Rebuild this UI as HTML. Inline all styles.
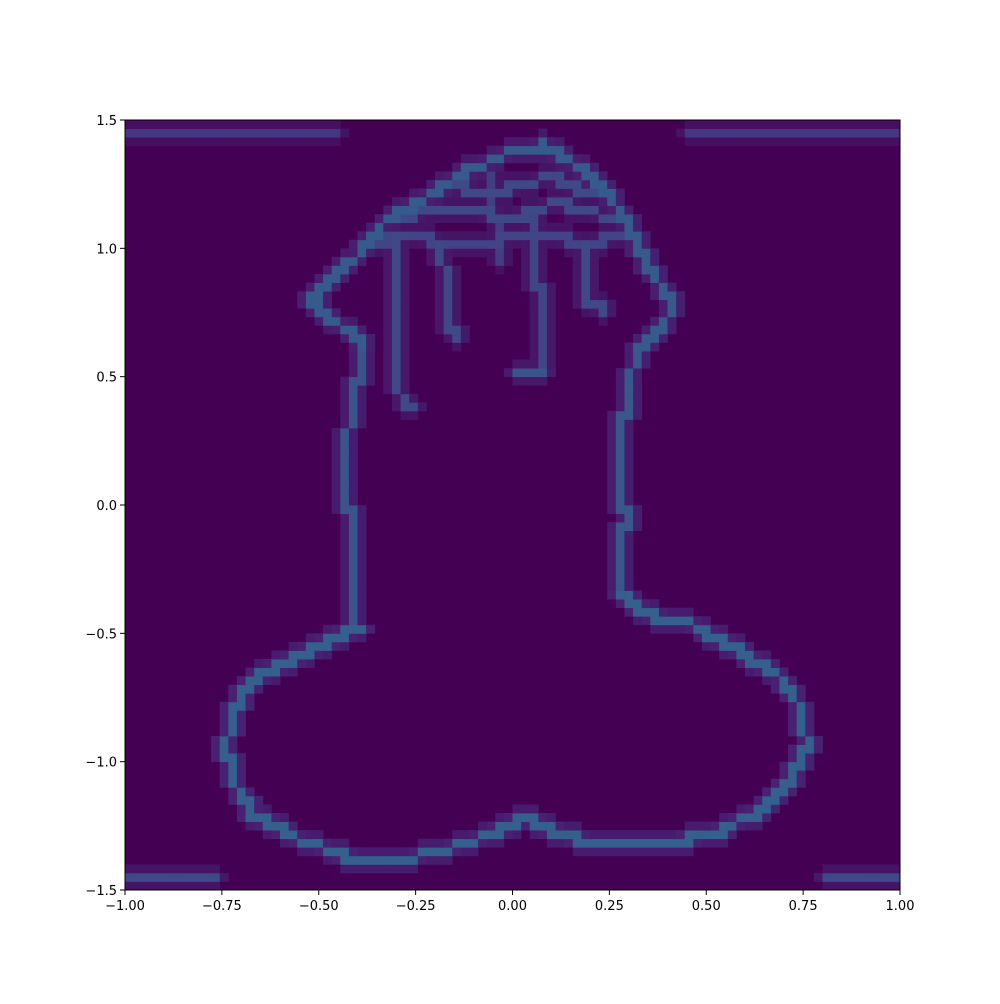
<!DOCTYPE html>
<html><head><meta charset="utf-8">
<style>
html,body{margin:0;padding:0;background:#fff;}
body{width:1000px;height:1000px;overflow:hidden;font-family:"DejaVu Sans","Liberation Sans",sans-serif;}
svg text{font-family:"DejaVu Sans","Liberation Sans",sans-serif;font-size:13px;fill:#000;}
</style></head>
<body>
<svg id="chart" width="1000" height="1000" xmlns="http://www.w3.org/2000/svg">
<rect x="125" y="120" width="775" height="770" fill="#440154"/>
<g id="cells"></g>
<rect x="125" y="120" width="775" height="770" fill="none" stroke="#000" stroke-width="1"/>
<g id="xaxis"></g>
<g id="yaxis"></g>
</svg>
<script>
// tick data
const xTicks = [-1.0,-0.75,-0.5,-0.25,0.0,0.25,0.5,0.75,1.0];
const xTickLabels = ["−1.00","−0.75","−0.50","−0.25","0.00","0.25","0.50","0.75","1.00"];
const yTicks = [-1.5,-1.0,-0.5,0.0,0.5,1.0,1.5];
const yTickLabels = ["−1.5","−1.0","−0.5","0.0","0.5","1.0","1.5"];
// stroke traces (x,y vertices), with intensity
const bulbTrace = [[-0.40,-0.48],[-0.48,-0.54],[-0.58,-0.61],[-0.66,-0.66],[-0.71,-0.78],[-0.74,-0.93],[-0.72,-1.08],[-0.66,-1.22],[-0.55,-1.30],[-0.42,-1.37],[-0.28,-1.38],[-0.12,-1.32],[0.03,-1.22],[0.10,-1.27],[0.22,-1.32],[0.38,-1.32],[0.52,-1.28],[0.64,-1.19],[0.72,-1.07],[0.76,-0.93],[0.74,-0.79],[0.69,-0.67],[0.59,-0.57],[0.46,-0.46],[0.35,-0.43],[0.28,-0.35]];
const leftShaft = [[-0.40,-0.48],[-0.41,-0.2],[-0.43,0.1],[-0.42,0.35],[-0.38,0.62]];
const rightShaft = [[0.28,-0.35],[0.29,-0.05],[0.28,0.25],[0.30,0.48],[0.33,0.62]];
const headTrace = [[-0.38,0.62],[-0.46,0.72],[-0.52,0.80],[-0.46,0.88],[-0.40,0.97],[-0.33,1.10],[-0.22,1.20],[-0.12,1.30],[0.0,1.38],[0.08,1.40],[0.16,1.33],[0.24,1.22],[0.30,1.10],[0.33,0.98],[0.38,0.86],[0.42,0.78],[0.38,0.68],[0.32,0.60]];
const headFill1 = [[-0.30,1.12],[-0.15,1.16],[0.0,1.12],[0.12,1.18],[0.25,1.12]];
const headFill2 = [[-0.20,1.25],[-0.05,1.22],[0.10,1.28],[0.22,1.20]];
const headFill3 = [[-0.38,1.02],[-0.25,1.05],[-0.12,1.00],[0.05,1.06],[0.18,1.02],[0.30,1.05]];
const drip1 = [[-0.30,1.05],[-0.30,0.70],[-0.30,0.45],[-0.26,0.38]];
const drip2 = [[-0.18,1.00],[-0.17,0.70],[-0.14,0.65]];
const drip3 = [[0.05,1.12],[0.07,0.80],[0.07,0.50]];
const drip4 = [[0.18,1.02],[0.19,0.80],[0.24,0.76]];
const drip5 = [[-0.05,1.28],[-0.04,0.95]];
const drip6 = [[0.00,0.50],[0.08,0.50]];
const topLeftLine = [[-1.0,1.46],[-0.45,1.46]];
const topRightLine = [[0.45,1.46],[1.0,1.46]];
const bottomLeftLine = [[-1.0,-1.46],[-0.76,-1.46]];
const bottomRightLine = [[0.80,-1.46],[1.0,-1.46]];
const traces = [bulbTrace,leftShaft,rightShaft,headTrace,headFill1,headFill2,headFill3,drip1,drip2,drip3,drip4,drip5,drip6,topLeftLine,topRightLine,bottomLeftLine,bottomRightLine];
const traceValues = [0.30,0.26,0.27,0.28,0.22,0.22,0.20,0.22,0.22,0.20,0.22,0.18,0.26,0.16,0.16,0.22,0.22];

const NX=90, NY=90, X0=125, X1=900, Y0=120, Y1=890;
const xs = v => X0 + (v+1)/2*(X1-X0);
const ys = v => Y1 - (v+1.5)/3*(Y1-Y0);
const grid = new Float32Array(NX*NY);
function put(i,j,v){ if(i<0||j<0||i>=NX||j>=NY) return; const k=j*NX+i; if(grid[k]<v) grid[k]=v; }
traces.forEach((tr,t)=>{
  const v=traceValues[t];
  for(let s=0;s<tr.length-1;s++){
    const [ax,ay]=tr[s],[bx,by]=tr[s+1];
    const n=Math.max(2,Math.ceil(Math.hypot((bx-ax)/0.02,(by-ay)/0.03)*3));
    for(let q=0;q<=n;q++){
      const x=ax+(bx-ax)*q/n, y=ay+(by-ay)*q/n;
      const i=Math.floor((x+1)/2*NX), j=Math.floor((y+1.5)/3*NY);
      put(i,j,v);
      put(i-1,j,v*0.3);put(i+1,j,v*0.3);put(i,j-1,v*0.25);put(i,j+1,v*0.25);
    }
  }
});
const vir=[[68,1,84],[72,36,117],[65,68,135],[53,95,141],[42,120,142],[33,145,140],[34,168,132],[68,191,112],[122,209,81],[189,223,38],[253,231,37]];
function cmap(v){v=Math.max(0,Math.min(1,v))*10;const a=Math.floor(Math.min(v,9.999)),f=v-a;const c=vir[a].map((c0,k)=>Math.round(c0+(vir[a+1][k]-c0)*f));return `rgb(${c})`;}
const cg=document.getElementById('cells');
const cw=(X1-X0)/NX, ch=(Y1-Y0)/NY;
for(let j=0;j<NY;j++)for(let i=0;i<NX;i++){
  const v=grid[j*NX+i]; if(v<=0.01) continue;
  const r=document.createElementNS('http://www.w3.org/2000/svg','rect');
  
  
  r.setAttribute('x',(X0+i*cw).toFixed(2));r.setAttribute('y',(Y1-(j+1)*ch).toFixed(2));
  r.setAttribute('width',(cw+0.4).toFixed(2));r.setAttribute('height',(ch+0.4).toFixed(2));
  r.setAttribute('fill',cmap(v));cg.appendChild(r);
}
const xa=document.getElementById('xaxis'), ya=document.getElementById('yaxis');
xTicks.forEach((t,k)=>{
  const x=xs(t);
  const l=document.createElementNS('http://www.w3.org/2000/svg','line');
  
  
  l.setAttribute('x1',x);l.setAttribute('x2',x);l.setAttribute('y1',Y1);l.setAttribute('y2',Y1+5);l.setAttribute('stroke','#000');xa.appendChild(l);
  const tx=document.createElementNS('http://www.w3.org/2000/svg','text');
  
  
  tx.setAttribute('x',x);tx.setAttribute('y',Y1+20);tx.setAttribute('text-anchor','middle');tx.textContent=xTickLabels[k];xa.appendChild(tx);
});
yTicks.forEach((t,k)=>{
  const y=ys(t);
  const l=document.createElementNS('http://www.w3.org/2000/svg','line');
  
  
  l.setAttribute('x1',X0-5);l.setAttribute('x2',X0);l.setAttribute('y1',y);l.setAttribute('y2',y);l.setAttribute('stroke','#000');ya.appendChild(l);
  const tx=document.createElementNS('http://www.w3.org/2000/svg','text');
  
  
  tx.setAttribute('x',X0-8);tx.setAttribute('y',y+5);tx.setAttribute('text-anchor','end');tx.textContent=yTickLabels[k];ya.appendChild(tx);
});
</script>
</body></html>
